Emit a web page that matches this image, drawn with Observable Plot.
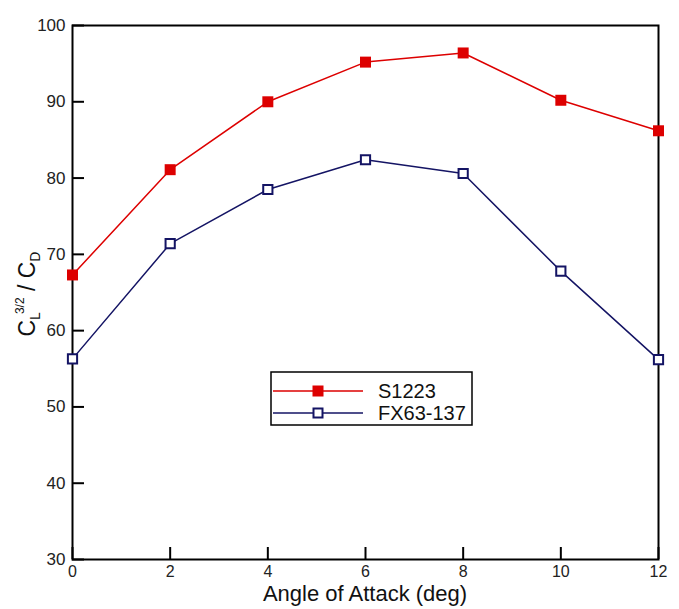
<!DOCTYPE html>
<html><head><meta charset="utf-8">
<script src="https://cdn.jsdelivr.net/npm/d3@7"></script>
<script src="https://cdn.jsdelivr.net/npm/@observablehq/plot@0.6"></script>
<style>
body{margin:0;background:#fff;}
#wrap{position:relative;width:679px;height:609px;font-family:"Liberation Sans",Arial,sans-serif;}
</style></head><body><div id="wrap"></div>
<script>
const angles = [0, 2, 4, 6, 8, 10, 12];
const s1223 = [67.3, 81.1, 90.0, 95.2, 96.4, 90.2, 86.2];
const fx63 = [56.3, 71.4, 78.5, 82.4, 80.6, 67.8, 56.2];
const seriesNames = ["S1223", "FX63-137"];
const seriesColors = ["#dd0000", "#141464"];
const xTicks = [0, 2, 4, 6, 8, 10, 12];
const yTicks = [30, 40, 50, 60, 70, 80, 90, 100];
const xTitle = "Angle of Attack (deg)";

const rowsS = angles.map((a, i) => ({angle: a, value: s1223[i], series: seriesNames[0]}));
const rowsF = angles.map((a, i) => ({angle: a, value: fx63[i], series: seriesNames[1]}));
const rows = rowsS.concat(rowsF);
const font = '"Liberation Sans", Arial, sans-serif';

const chart = Plot.plot({
  width: 679, height: 609,
  marginLeft: 72, marginRight: 21, marginTop: 25, marginBottom: 50,
  style: {fontFamily: font, background: "#fff", color: "#000"},
  x: {domain: [0, 12], label: null},
  y: {domain: [30, 100], label: null},
  color: {domain: seriesNames, range: seriesColors},
  marks: [
    Plot.frame({stroke: "#000", strokeWidth: 2}),
    Plot.axisX(xTicks, {tickSize: 12, dy: -12, text: null, strokeWidth: 2, stroke: "#000"}),
    Plot.axisX(xTicks, {tickSize: 0, tickPadding: 6, fontSize: 16, fill: "#222", label: null}),
    Plot.axisY(yTicks, {tickSize: 12, dx: 12, text: null, strokeWidth: 2, stroke: "#000"}),
    Plot.axisY(yTicks, {tickSize: 0, tickPadding: 7, fontSize: 17, fill: "#222", label: null}),
    Plot.line(rows, {x: "angle", y: "value", stroke: "series", z: "series", strokeWidth: 1.5}),
    Plot.dot(rowsS, {x: "angle", y: "value", symbol: "square", r: 6.2, fill: seriesColors[0], stroke: "none"}),
    Plot.dot(rowsF, {x: "angle", y: "value", symbol: "square", r: 5.2, fill: "#fff", stroke: seriesColors[1], strokeWidth: 2})
  ]
});
document.getElementById("wrap").appendChild(chart);

const svg = d3.select(chart);

// X axis title
svg.append("text")
  .attr("x", 365).attr("y", 601)
  .attr("text-anchor", "middle")
  .attr("font-family", font)
  .attr("font-size", 22)
  .attr("fill", "#111")
  .text(xTitle);

// Y axis title with sub/superscripts
const t = svg.append("text")
  .attr("transform", "translate(35,294) rotate(-90)")
  .attr("text-anchor", "middle")
  .attr("font-family", font)
  .attr("font-size", 23)
  .attr("fill", "#111");
t.append("tspan").text("C");
t.append("tspan").attr("font-size", 14).attr("dy", 5).text("L");
t.append("tspan").attr("font-size", 12).attr("dy", -16).attr("dx", -2).text("3/2");
t.append("tspan").attr("dy", 11).text(" / C");
t.append("tspan").attr("font-size", 14).attr("dy", 5).text("D");

// Legend
const lg = svg.append("g").attr("font-family", font);
lg.append("rect").attr("x", 271).attr("y", 372).attr("width", 201).attr("height", 53)
  .attr("fill", "#fff").attr("stroke", "#000").attr("stroke-width", 1.5);
seriesNames.forEach((name, i) => {
  const cy = 391 + i * 22;
  lg.append("line").attr("x1", 273).attr("x2", 363).attr("y1", cy).attr("y2", cy)
    .attr("stroke", seriesColors[i]).attr("stroke-width", 1.5);
  if (i === 0) {
    lg.append("rect").attr("x", 312.5).attr("y", cy - 5.5).attr("width", 11).attr("height", 11)
      .attr("fill", seriesColors[0]);
  } else {
    lg.append("rect").attr("x", 313.5).attr("y", cy - 4.5).attr("width", 9).attr("height", 9)
      .attr("fill", "#fff").attr("stroke", seriesColors[1]).attr("stroke-width", 2);
  }
  lg.append("text").attr("x", 378).attr("y", cy).attr("dy", "0.36em")
    .attr("text-anchor", "start")
    .attr("font-size", 20).attr("fill", "#111").text(name);
});
</script></body></html>
